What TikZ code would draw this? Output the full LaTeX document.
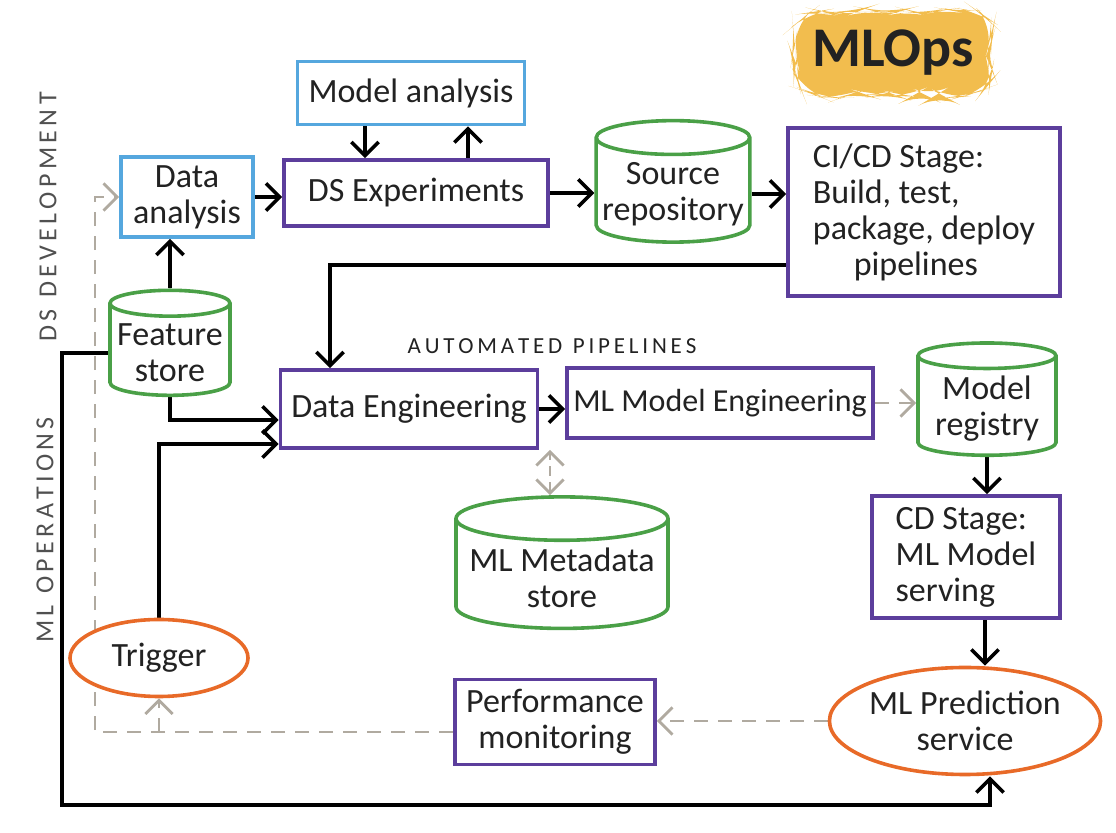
\documentclass[tikz,border=0pt]{standalone}
\usepackage{fontspec}
\setmainfont{Carlito}
\usetikzlibrary{positioning,arrows.meta,shapes.geometric,decorations.pathmorphing}
\definecolor{dsblue}{HTML}{55A7DE}
\definecolor{opspurple}{HTML}{5C3E9C}
\definecolor{storegreen}{HTML}{4AA047}
\definecolor{svcorange}{HTML}{E86A28}
\definecolor{fbgray}{HTML}{B0AAA0}
\definecolor{ttlyellow}{HTML}{F2BD4E}
\definecolor{ink}{HTML}{222222}
\definecolor{lanegray}{HTML}{505050}
\pgfdeclarelayer{bg}
\pgfsetlayers{bg,main}

\begin{document}
\begin{tikzpicture}[x=0.5pt, y=-0.5pt,
  box/.style={draw=#1, line width=1.8pt, fill=white, align=center, text=ink, inner sep=3pt, font=\fontsize{17}{18}\selectfont},
  db/.style={cylinder, shape border rotate=90, aspect=0.22, draw=storegreen, line width=1.8pt, fill=white, align=center, text=ink, inner sep=3pt, font=\fontsize{17}{18}\selectfont},
  svc/.style={ellipse, draw=svcorange, line width=1.8pt, fill=white, align=center, text=ink, inner sep=0pt, font=\fontsize{17}{18}\selectfont},
  arr/.style={-{Straight Barb[length=2.4mm]}, line width=1.8pt},
  fb/.style={-{Straight Barb[length=2.4mm]}, line width=1.4pt, fbgray, dash pattern=on 7pt off 5pt},
  lane/.style={rotate=90, text=lanegray, font=\fontsize{13}{13}\selectfont}]
\useasboundingbox (0,0) rectangle (1116,833);
\pgfmathsetseed{7}
% title
\node[fill=ttlyellow, rounded corners=12pt, minimum width=98pt, minimum height=42pt, decorate, decoration={random steps, segment length=5pt, amplitude=1.5pt}, font=\fontsize{28}{28}\selectfont\bfseries, text=ink] (ttl) at (893,53) {MLOps};
% lanes
\node[lane] (lnDev) at (48,217) {D\,S\ \ D\,E\,V\,E\,L\,O\,P\,M\,E\,N\,T};
\node[lane] (lnOps) at (45,530) {M\,L\ \ O\,P\,E\,R\,A\,T\,I\,O\,N\,S};
\node[text=ink, font=\fontsize{11.5}{12}\selectfont] (lnAuto) at (552,346) {A\,U\,T\,O\,M\,A\,T\,E\,D\ \ P\,I\,P\,E\,L\,I\,N\,E\,S};
% development
\node[box=dsblue, minimum width=66pt, minimum height=40pt] (da) at (187,197) {Data\\analysis};
\node[box=dsblue, minimum width=113.5pt, minimum height=31.5pt] (ma) at (411,93) {Model analysis};
\node[box=opspurple, minimum width=132pt, minimum height=33pt] (dse) at (416,193) {DS Experiments};
\node[db, minimum width=75pt, minimum height=52.5pt] (src) at (673,194) {Source\\repository};
\node[box=opspurple, align=left, minimum width=136pt, minimum height=84pt] (cicd) at (924,212) {CI/CD Stage:\\Build, test,\\package, deploy\\\hspace{1.2em}pipelines};
% operations
\node[db, minimum width=60pt, minimum height=52pt] (fs) at (170,353) {Feature\\store};
\node[box=opspurple, minimum width=128.5pt, minimum height=39pt] (de) at (409,409) {Data Engineering};
\node[box=opspurple, inner sep=1pt, minimum width=153pt, minimum height=35pt, font=\fontsize{16}{17}\selectfont] (mme) at (720,403) {ML Model Engineering};
\node[db, minimum width=69pt, minimum height=54.5pt] (reg) at (987,409) {Model\\registry};
\node[db, minimum width=106pt, minimum height=40pt] (meta) at (562,578) {ML Metadata\\store};
\node[box=opspurple, align=left, minimum width=94pt, minimum height=61pt] (cd) at (966,557) {CD Stage:\\ML Model\\serving};
\node[svc, minimum width=89pt, minimum height=38.5pt] (trig) at (159,658) {Trigger};
\node[box=opspurple, minimum width=100pt, minimum height=42.5pt] (perf) at (555,722) {Performance\\monitoring};
\node[svc, minimum width=132.5pt, minimum height=53.5pt] (pred) at (965,721) {ML Prediction\\service};
\coordinate (cornerL) at (62,805);
\coordinate (fbCorner) at (95,732);
\begin{pgfonlayer}{bg}
\draw[arr] (da.east) -- (da.east -| dse.west);
\draw[arr] ([xshift=-23pt]ma.south) -- ([xshift=-23pt]ma.south |- dse.north);
\draw[arr] ([xshift=26pt]dse.north) -- ([xshift=26pt]dse.north |- ma.south);
\draw[arr] (dse.east) -- (dse.east -| src.west);
\draw[arr] (src.east) -- (src.east -| cicd.west);
\draw[arr] ([yshift=-26.5pt]cicd.west) -| ([xshift=-39.5pt]de.north);
\draw[arr] (fs.north) -- (fs.north |- da.south);
\draw[arr] (fs.south) |- ([yshift=-5.5pt]de.west);
\draw[arr] (trig.north) |- ([yshift=-17.5pt]de.west);
\draw[arr] (fs.west) -| (cornerL) -| ([xshift=12.5pt]pred.south);
\draw[arr] (de.east) -- (de.east -| mme.west);
\draw[fb] (mme.east) -- (mme.east -| reg.west);
\draw[arr] (reg.south) -- (reg.south |- cd.north);
\draw[arr] ([xshift=9.5pt]cd.south) -- ([xshift=9.5pt]cd.south |- pred.north);
\draw[fb, dash pattern=on 5pt off 3pt, {Straight Barb[length=2.4mm]}-{Straight Barb[length=2.4mm]}] ([xshift=-6pt]meta.north) -- ([xshift=-6pt]meta.north |- de.south);
\draw[fb] (pred.west) -- (pred.west -| perf.east);
\draw[fb] ([yshift=-5pt]perf.west) -| (fbCorner) |- (da.west);
\draw[fb] (fbCorner -| trig.south) -- (trig.south);
\end{pgfonlayer}
\end{tikzpicture}
\end{document}
